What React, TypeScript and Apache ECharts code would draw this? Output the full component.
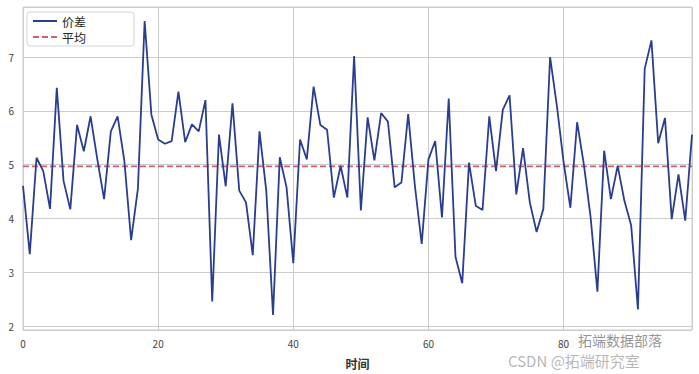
import React, { useEffect, useRef } from "react";
import * as echarts from "echarts";

const spreadValues: number[] = [
  4.61, 3.34, 5.13, 4.88, 4.18, 6.43, 4.7, 4.17, 5.74, 5.25,
  5.9, 5.1, 4.36, 5.62, 5.9, 5.07, 3.6, 4.55, 7.67, 5.93,
  5.47, 5.39, 5.44, 6.36, 5.42, 5.75, 5.62, 6.2, 2.46, 5.56,
  4.6, 6.14, 4.52, 4.3, 3.32, 5.62, 4.52, 2.21, 5.14, 4.58,
  3.17, 5.47, 5.1, 6.45, 5.74, 5.65, 4.39, 4.98, 4.39, 7.02,
  4.15, 5.88, 5.08, 5.96, 5.8, 4.58, 4.67, 5.94, 4.6, 3.53,
  5.1, 5.44, 4.02, 6.23, 3.29, 2.8, 5.04, 4.24, 4.16, 5.9,
  4.88, 6.02, 6.29, 4.45, 5.31, 4.3, 3.75, 4.18, 7.0, 6.1,
  5.05, 4.2, 5.79, 5.0, 4.02, 2.64, 5.26, 4.36, 4.98, 4.33,
  3.87, 2.31, 6.78, 7.31, 5.4, 5.87, 3.99, 4.82, 3.96, 5.56,
];
const meanValue = 4.97;
const seriesNames = ["价差", "平均"];
const xAxisName = "时间";
const watermarkTop = "拓端数据部落";
const watermarkBottom = "CSDN @拓端研究室";

export default function App() {
  const ref = useRef<HTMLDivElement>(null);
  useEffect(() => {
    if (!ref.current) return;
    const chart = echarts.init(ref.current, undefined, { renderer: "svg" });
    const lastX = spreadValues.length - 1;
    const font = "'Noto Sans CJK SC', 'Noto Sans', sans-serif";
    chart.setOption({
      animation: false,
      backgroundColor: "#ffffff",
      textStyle: { fontFamily: font },
      grid: {
        left: 23,
        right: 7,
        top: 7,
        bottom: 41,
        show: true,
        borderColor: "#cccccc",
        borderWidth: 1,
      },
      legend: {
        left: 27,
        top: 12,
        orient: "vertical",
        itemWidth: 24,
        itemHeight: 10,
        itemGap: 4,
        padding: [3, 48, 3, 5],
        backgroundColor: "#ffffff",
        borderColor: "#d5d5d5",
        borderWidth: 1,
        borderRadius: 3,
        itemStyle: { opacity: 0 },
        textStyle: { fontSize: 12, lineHeight: 12, color: "#222", fontFamily: font },
        data: seriesNames,
      },
      xAxis: {
        type: "value",
        min: 0,
        max: lastX,
        interval: 20,
        name: xAxisName,
        nameLocation: "middle",
        nameGap: 27,
        nameTextStyle: { fontSize: 12, color: "#333", fontWeight: "bold", fontFamily: font },
        axisLine: { show: false },
        axisTick: { show: false },
        axisLabel: { color: "#444", fontSize: 10, margin: 9, showMaxLabel: false },
        splitLine: { show: true, lineStyle: { color: "#cccccc", width: 1 } },
      },
      yAxis: {
        type: "value",
        min: 1.93,
        max: 7.93,
        splitNumber: 6,
        axisLine: { show: false },
        axisTick: { show: false },
        axisLabel: {
          color: "#444",
          fontSize: 10,
          margin: 9,
          showMinLabel: false,
          showMaxLabel: false,
        },
        splitLine: { show: true, lineStyle: { color: "#cccccc", width: 1 } },
      },
      series: [
        {
          name: seriesNames[0],
          type: "line",
          symbol: "none",
          data: spreadValues.map((v, i) => [i, v]),
          lineStyle: { color: "#2a3d8f", width: 1.8 },
          itemStyle: { color: "#2a3d8f" },
          z: 3,
        },
        {
          name: seriesNames[1],
          type: "line",
          symbol: "none",
          data: [
            [0, meanValue],
            [lastX, meanValue],
          ],
          lineStyle: { color: "#cf5f6e", width: 1.8, type: [6, 3] },
          itemStyle: { color: "#cf5f6e" },
          z: 2,
        },
      ],
      graphic: [
        {
          type: "text",
          left: 578,
          top: 333,
          z: 10,
          style: {
            text: watermarkTop,
            fill: "rgba(100,100,100,0.7)",
            fontSize: 14,
            lineHeight: 14,
            fontFamily: font,
          },
        },
        {
          type: "text",
          left: 508,
          top: 353,
          z: 10,
          style: {
            text: watermarkBottom,
            fill: "rgba(150,150,150,0.7)",
            fontSize: 15,
            lineHeight: 15,
            fontFamily: font,
          },
        },
      ],
    });
    return () => chart.dispose();
  }, []);
  return (
    <div
      ref={ref}
      style={{ position: "fixed", left: 0, top: 0, width: 699, height: 374 }}
    />
  );
}
